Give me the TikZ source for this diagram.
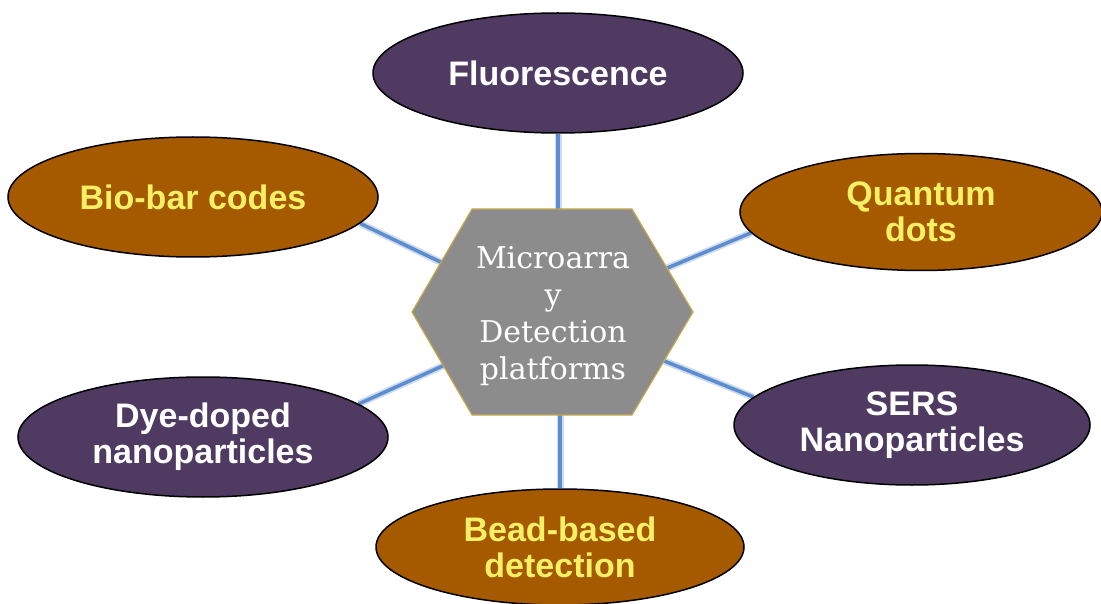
\documentclass[tikz,border=0pt]{standalone}
\usepackage{fontspec}
\setmainfont{Liberation Serif}
\newfontfamily\labelfont{Liberation Sans}
\newfontfamily\hexfont{DejaVu Serif}
\usepackage{tikz}
\usetikzlibrary{shapes.geometric}
\usetikzlibrary{backgrounds}
\definecolor{ovalpurple}{HTML}{4F3A62}
\definecolor{ovalbrown}{HTML}{A65A00}
\definecolor{labelyellow}{HTML}{F6F067}
\definecolor{hexgray}{HTML}{8C8C8C}
\definecolor{hexgold}{HTML}{C9A84E}
\definecolor{pipeblue}{HTML}{5A8ED0}
\definecolor{pipelight}{HTML}{CFDAEA}

\begin{document}
\begin{tikzpicture}[x=1pt,y=-1pt,
  oval/.style={ellipse,draw=black,line width=1.5pt,minimum width=370pt,minimum height=120pt,
    inner sep=0pt,align=center,font=\labelfont\bfseries\fontsize{34}{36}\selectfont},
  purpleoval/.style={oval,fill=ovalpurple,text=white},
  brownoval/.style={oval,fill=ovalbrown,text=labelyellow},
  pipe/.style={draw=pipeblue,line width=3.5pt,preaction={draw=pipelight,line width=7pt}}]
\useasboundingbox (0,0) rectangle (1101,604);
%% outer ovals
\node[purpleoval] (flu)  at (558,73)  {Fluorescence};
\node[brownoval]  (bio)  at (193,197) {Bio-bar codes};
\node[brownoval,minimum width=362pt,minimum height=117pt] (qd) at (921,212) {Quantum\\dots};
\node[purpleoval,minimum width=356pt] (sers) at (912,425) {SERS\\Nanoparticles};
\node[purpleoval] (dye)  at (203,437) {Dye-doped\\nanoparticles};
\node[brownoval,minimum width=368pt,minimum height=116pt] (bead) at (560,547) {Bead-based\\detection};
%% centre hexagon
\fill[hexgray,draw=hexgold,line width=1.2pt] (472,209) -- (632,209) -- (693,312) -- (632,415) -- (472,415) -- (412,312) -- cycle;
\node[text=white,align=center,font=\hexfont\fontsize{30}{37}\selectfont] (hex) at (553,316) {Microarra\\y\\Detection\\platforms};
%% spokes
\begin{scope}[on background layer]
\foreach \n/\a in {bio/-9, qd/187, sers/170, dye/12.6}
    \draw[pipe] (\n.\a) -- (hex.center);
\draw[pipe] (flu.south) -- (flu.south |- hex.center);
\draw[pipe] (bead.north) -- (bead.north |- hex.center);
\end{scope}
\end{tikzpicture}
\end{document}
